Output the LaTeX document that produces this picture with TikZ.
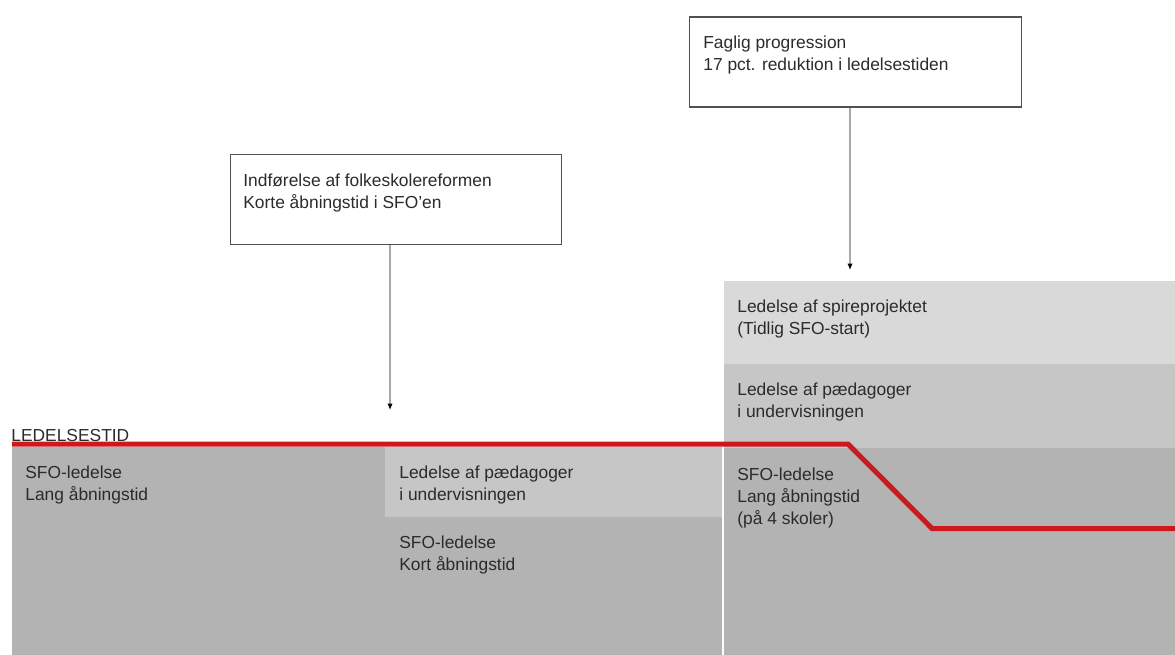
\documentclass[tikz,border=0pt]{standalone}
\usepackage{fontspec}
\setmainfont{Liberation Sans}
\usetikzlibrary{arrows.meta}
\definecolor{mork}{HTML}{B3B3B3}
\definecolor{mellem}{HTML}{C6C6C6}
\definecolor{lys}{HTML}{D9D9D9}
\definecolor{rod}{HTML}{CC1A1C}
\definecolor{tekstgraa}{HTML}{2B2B2B}
\definecolor{boksgraa}{HTML}{505050}
\definecolor{pilgraa}{HTML}{A8A8A8}

\begin{document}
\begin{tikzpicture}[x=0.02cm, y=-0.02cm,
    felt/.style={rectangle, anchor=north west, inner sep=0, minimum width=9.02cm},
    tekst/.style={anchor=north west, inner sep=0, align=left, text=tekstgraa, font=\fontsize{9.9}{12.5}\selectfont},
    boks/.style={rectangle, draw=boksgraa, line width=0.6pt, anchor=north west, inner sep=0, minimum width=6.64cm, minimum height=1.8cm},
    pil/.style={draw=pilgraa, line width=0.6pt, -{Latex[length=3.6pt, width=3pt, color=black]}}]
    \useasboundingbox (0,0) rectangle (1175,655);

    \draw
    (12,447)node[felt, fill=mork, minimum width=14.2cm, minimum height=4.16cm](sfo){}
    (385,447)node[felt, fill=mellem, minimum width=6.74cm, minimum height=1.39cm](paed){}
    (724,281)node[felt, fill=mork, minimum height=7.5cm](sfoto){}
    (724,281)node[felt, fill=lys, minimum height=1.68cm](spire){}
    (724,364)node[felt, fill=mellem, minimum height=1.68cm](paedto){}
    ;

    \draw[rod, line width=0.1cm] (12,444) -- (848,444) -- (932,528.5) -- (1175,528.5);

    \draw
    (11,441.5)node[anchor=base west, inner sep=0, text=tekstgraa, font=\fontsize{9.9}{12.5}\selectfont](titel){LEDELSESTID}
    ([shift={(13,19)}]sfo.north west)node[tekst](t1){SFO-ledelse\\Lang åbningstid}
    ([shift={(14,19)}]paed.north west)node[tekst](t2){Ledelse af pædagoger\\i undervisningen}
    ([shift={(14,18)}]paed.south west)node[tekst](t3){SFO-ledelse\\Kort åbningstid}
    ([shift={(13,19)}]spire.north west)node[tekst](t4){Ledelse af spireprojektet\\(Tidlig SFO-start)}
    ([shift={(13,19)}]paedto.north west)node[tekst](t5){Ledelse af pædagoger\\i undervisningen}
    ([shift={(13,19)}]paedto.south west)node[tekst](t6){SFO-ledelse\\Lang åbningstid\\(på 4 skoler)}
    ;

    \draw
    (229.5,154)node[boks](reform){}
    ([shift={(13.5,20)}]reform.north west)node[tekst](r1){Indførelse af folkeskolereformen\\Korte åbningstid i SFO’en}
    (689,16.5)node[boks](faglig){}
    ([shift={(14,19)}]faglig.north west)node[tekst](f1){Faglig progression\\17 pct. reduktion i ledelsestiden}
    ;

    \coordinate (p1) at (390,410);
    \coordinate (p2) at (850,270);
    \draw[pil] (reform.south -| p1) -- (p1);
    \draw[pil] (faglig.south -| p2) -- (p2);
\end{tikzpicture}
\end{document}
